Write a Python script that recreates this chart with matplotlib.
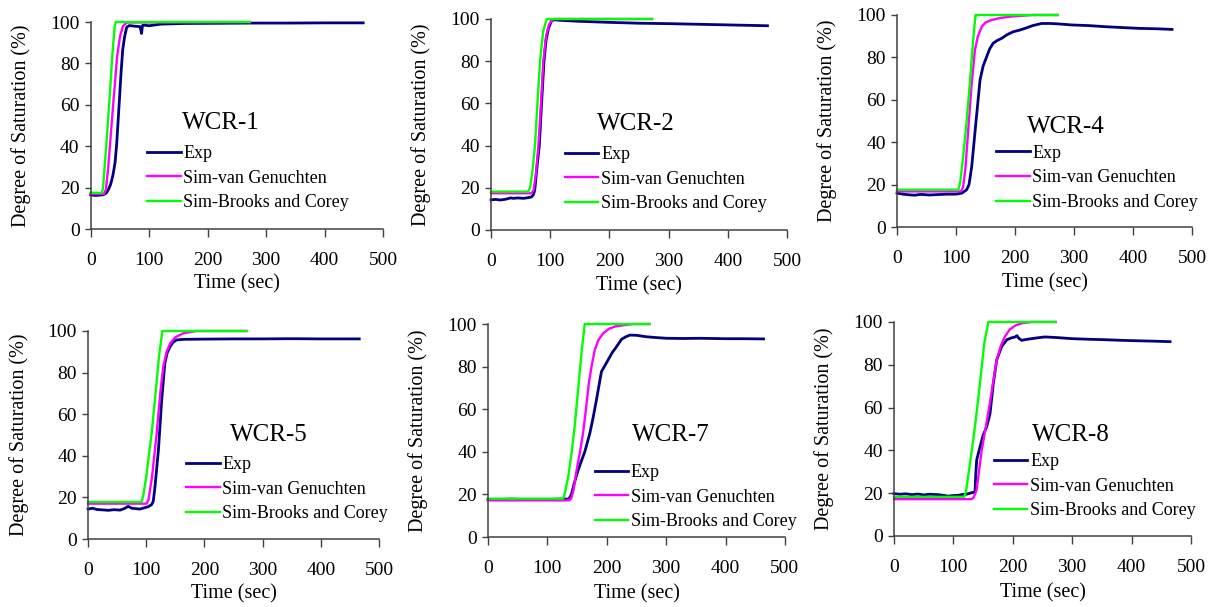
import numpy as np
import matplotlib.pyplot as plt

plt.rcParams['font.family'] = ['Liberation Serif', 'DejaVu Serif']

names = ['WCR-1', 'WCR-2', 'WCR-4', 'WCR-5', 'WCR-7', 'WCR-8']
labels = ['Exp', 'Sim-van Genuchten', 'Sim-Brooks and Corey']

# WCR-1
exp_t_1 = [0, 8, 16, 22, 27, 31, 34, 38, 41.6, 44.4, 49, 52, 54.7, 58, 61.6, 66, 75, 84, 86, 87, 88.5,
           92, 100, 110, 120, 160, 220, 280, 340, 400, 466]
exp_s_1 = [16.5, 16.2, 16.4, 16.6, 17.5, 19.5, 21.5, 26, 32, 41, 62, 76, 86.5, 93, 97.5, 98.3, 98, 97.8,
           96, 94.5, 98.3, 98.5, 98.2, 98.6, 99, 99.3, 99.4, 99.5, 99.5, 99.6, 99.6]
vg_t_1 = [0, 23, 26, 30, 35, 40.4, 45, 50, 55, 62, 272]
vg_s_1 = [17, 17, 19, 30, 48, 67, 83, 93, 98, 99.8, 100]
bc_t_1 = [0, 19, 21, 26, 32, 37, 41, 43, 272]
bc_s_1 = [17.5, 17.5, 19.5, 38, 62, 84, 98, 100, 100]

# WCR-2
exp_t_2 = [0, 8, 16, 25, 33, 38, 45, 55, 62, 68, 71, 73, 74.3, 77, 80, 81.6, 85, 89.5, 93, 97, 102.5,
           108, 115, 150, 200, 250, 300, 350, 400, 467]
exp_s_2 = [14.3, 14.5, 14.2, 14.6, 15.2, 15.0, 15.2, 15.0, 15.3, 15.6, 16.5, 18, 20, 28, 36, 40, 58, 80,
           90, 95.5, 99.3, 99.6, 99.4, 98.9, 98.4, 98.0, 97.8, 97.5, 97.2, 96.8]
vg_t_2 = [0, 68.7, 72, 76, 80, 84, 88.4, 93, 98, 105, 272]
vg_s_2 = [17.4, 17.4, 19, 27, 40, 58, 80, 92, 97.5, 100, 100]
bc_t_2 = [0, 63, 66, 70, 74.3, 78, 82.8, 88, 94, 272]
bc_s_2 = [18.2, 18.2, 20, 28, 40, 58, 80, 94, 100, 100]

# WCR-4
exp_t_4 = [0, 10, 20, 30, 40, 55, 70, 85, 100, 110, 118, 122, 126.6, 133, 140.7, 146, 152, 157, 163,
           170, 177.4, 187, 197, 207, 217, 230, 245, 260, 273, 296, 325, 352, 380, 409, 440, 466]
exp_s_4 = [16, 15.5, 15.2, 15.0, 15.4, 15.1, 15.3, 15.5, 15.5, 16, 17.6, 20, 28.6, 47.4, 69.4, 76, 80.4,
           84, 86.7, 88, 89, 90.8, 92.1, 92.8, 93.7, 95, 96, 96, 95.8, 95.3, 95, 94.5, 94.1, 93.7, 93.5, 93.2]
vg_t_4 = [0, 108.5, 112, 116, 121, 126, 132, 137, 143.6, 150, 160, 175, 194, 230, 272]
vg_s_4 = [16.8, 16.8, 19, 28, 47, 66, 83.5, 90, 94.5, 96.5, 97.6, 98.6, 99.3, 100, 100]
bc_t_4 = [0, 104, 107, 112, 118, 124, 129, 133, 272]
bc_s_4 = [17.6, 17.6, 21, 33, 50, 70, 88, 100, 100]

# WCR-5
exp_t_5 = [0, 8, 15, 25, 35, 45, 55, 62, 69, 75, 82, 89, 97, 104, 109, 112, 115, 121, 126.6, 132, 136,
           141, 146, 152, 165, 200, 250, 300, 350, 400, 466]
exp_s_5 = [14.4, 14.8, 14.2, 14.0, 13.8, 14.1, 13.9, 14.6, 15.7, 14.8, 14.6, 14.4, 15.0, 15.6, 16.5, 18,
           25, 43, 67, 84.5, 89.5, 92.5, 94.5, 95.7, 96, 96.1, 96.2, 96.2, 96.3, 96.2, 96.2]
vg_t_5 = [0, 100.8, 104, 110, 118, 124, 129.4, 135, 141, 150, 163.8, 186, 272]
vg_s_5 = [17, 17, 19, 30, 51, 70, 83, 90, 94, 97, 98.9, 100, 100]
bc_t_5 = [0, 92, 95, 100, 109.4, 116, 122, 127.7, 272]
bc_s_5 = [17.8, 17.8, 21, 30, 51, 70, 88, 100, 100]

# WCR-7
exp_t_7 = [0, 20, 40, 60, 80, 100, 120, 134.8, 137.6, 140.5, 145, 151.7, 157, 163, 171.4, 177, 182.6,
           191, 202, 209, 216.3, 224.8, 232, 238.8, 250, 267, 285, 301, 330, 357, 400, 430, 464]
exp_s_7 = [17.7, 17.6, 17.8, 17.6, 17.7, 17.6, 17.8, 17.8, 18.5, 20, 25, 31.3, 35.5, 40, 48.6, 56, 64.3,
           77.6, 83, 86.5, 89.3, 92.8, 94, 94.8, 94.7, 94, 93.6, 93.3, 93.2, 93.3, 93.1, 93.1, 93]
vg_t_7 = [0, 136.5, 140, 144, 149, 155, 160, 165, 169.7, 175, 179.8, 186, 193.8, 204, 216, 244, 272]
vg_s_7 = [17.2, 17.2, 18, 22, 31, 40, 48.6, 60, 72, 81, 87.8, 92.5, 95.6, 97.8, 99, 100, 100]
bc_t_7 = [0, 126.4, 129, 135, 141, 146, 152, 158, 163, 272]
bc_s_7 = [18, 18, 20, 28, 40, 52, 70, 88, 100, 100]

# WCR-8
exp_t_8 = [0, 10, 20, 30, 40, 50, 60, 75, 85, 91.5, 100, 108, 115, 122, 130.7, 136.4, 137.5, 139.2,
           144.9, 150, 156, 161.6, 167.3, 173, 181.4, 190, 197, 204, 207, 210, 215, 222, 231.8, 242,
           254, 275, 299, 330, 355, 385, 411, 440, 464.8]
exp_s_8 = [19.8, 19.5, 19.7, 19.3, 19.6, 19.2, 19.5, 19.3, 18.9, 18.6, 18.9, 19.0, 19.4, 19.5, 20.2,
           20.6, 28, 35.5, 41.7, 47, 51, 57, 71.4, 82.3, 88.6, 91.7, 92.5, 93, 93.6, 92.4, 91.4, 91.8,
           92.2, 92.6, 93, 92.7, 92.2, 91.9, 91.7, 91.4, 91.2, 91.0, 90.8]
vg_t_8 = [0, 130.7, 134, 139, 143, 147.6, 154, 160.5, 167, 173, 180, 187, 195, 204, 215, 231.8, 272]
vg_s_8 = [17.2, 17.2, 18, 21.4, 30, 40, 50, 60.5, 72, 82.3, 89, 93.3, 96.5, 98.3, 99.4, 100, 100]
bc_t_8 = [0, 118.4, 121, 126, 132, 138, 145, 152, 158.8, 272]
bc_s_8 = [18.3, 18.3, 20.5, 30, 42, 55, 72, 90, 100, 100]

exp_runs = [(exp_t_1, exp_s_1), (exp_t_2, exp_s_2), (exp_t_4, exp_s_4),
            (exp_t_5, exp_s_5), (exp_t_7, exp_s_7), (exp_t_8, exp_s_8)]
vg_runs = [(vg_t_1, vg_s_1), (vg_t_2, vg_s_2), (vg_t_4, vg_s_4),
           (vg_t_5, vg_s_5), (vg_t_7, vg_s_7), (vg_t_8, vg_s_8)]
bc_runs = [(bc_t_1, bc_s_1), (bc_t_2, bc_s_2), (bc_t_4, bc_s_4),
           (bc_t_5, bc_s_5), (bc_t_7, bc_s_7), (bc_t_8, bc_s_8)]

# panel placement (figure fractions) and annotation spots
rects = [(0.0746, 0.6227, 0.2404, 0.341), (0.4038, 0.6211, 0.2434, 0.3476),
         (0.7377, 0.626, 0.2426, 0.3493), (0.0724, 0.112, 0.2393, 0.3427),
         (0.4013, 0.1153, 0.2442, 0.3509), (0.7352, 0.117, 0.2442, 0.3526)]
name_xy = [(156, 51), (179, 50), (220, 47), (244, 50), (242, 48), (232, 47)]
legend_xy = [(0.193, 0.405), (0.25, 0.398), (0.336, 0.388),
             (0.337, 0.398), (0.36, 0.343), (0.337, 0.388)]

axis_col = '#404040'

fig = plt.figure(figsize=(12.16, 6.07), dpi=100)

for i in range(6):
    ax = fig.add_axes(rects[i])
    et, es = exp_runs[i]
    vt, vs = vg_runs[i]
    bt, bs = bc_runs[i]
    ax.plot(et, es, color='#000080', lw=2.0, label=labels[0], clip_on=False)
    ax.plot(vt, vs, color='#ff00ff', lw=1.7, label=labels[1], clip_on=False)
    ax.plot(bt, bs, color='#00ff00', lw=1.7, label=labels[2], clip_on=False)

    ax.set_xlim(0, 500)
    ax.set_ylim(0, 100)
    ax.set_xticks(np.arange(0, 501, 100))
    ax.set_yticks(np.arange(0, 101, 20))
    for side in ['top', 'right']:
        ax.spines[side].set_visible(False)
    for side in ['left', 'bottom']:
        ax.spines[side].set_color(axis_col)
        ax.spines[side].set_linewidth(1.1)
    ax.tick_params(axis='x', direction='out', length=5.5, width=1, color=axis_col,
                   pad=11, labelsize=14)
    ax.tick_params(axis='y', direction='out', length=4, width=1, color=axis_col,
                   pad=4, labelsize=14)

    ax.set_xlabel('Time (sec)', fontsize=14.5)
    ax.set_ylabel('Degree of Saturation (%)', fontsize=14.5)
    ax.xaxis.label.set_va('center')
    ax.yaxis.label.set_va('center')
    ax.xaxis.set_label_coords(0.5, -0.265)
    ax.yaxis.set_label_coords(-0.237, 0.5)

    ax.text(name_xy[i][0], name_xy[i][1], names[i], fontsize=18, ha='left', va='center')

    ax.legend(loc='upper left', bbox_to_anchor=legend_xy[i], frameon=False,
              fontsize=13, handlelength=1.85, handletextpad=0.15,
              labelspacing=0.42, borderpad=0, borderaxespad=0)

fig.savefig('out.png', dpi=100)
